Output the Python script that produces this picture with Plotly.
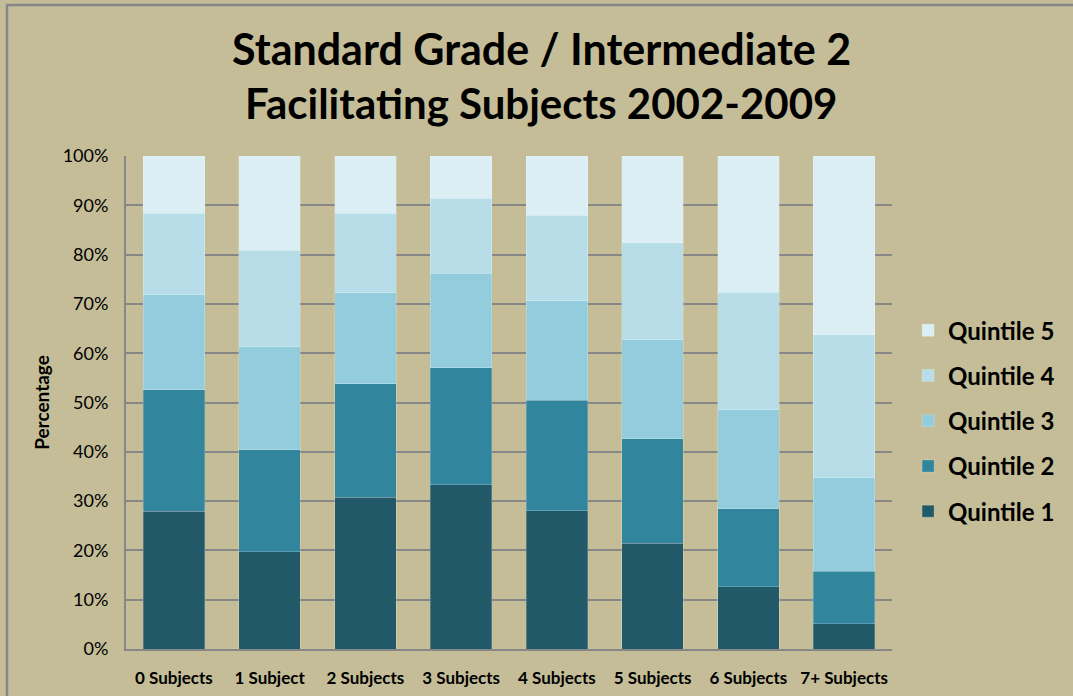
import plotly.graph_objects as go

categories = ["0 Subjects", "1 Subject", "2 Subjects", "3 Subjects", "4 Subjects",
              "5 Subjects", "6 Subjects", "7+ Subjects"]
quintile_1 = [27.9, 19.7, 30.8, 33.3, 28.0, 21.5, 12.6, 5.1]
quintile_2 = [24.7, 20.7, 23.0, 23.7, 22.5, 21.1, 15.8, 10.7]
quintile_3 = [19.3, 20.9, 18.5, 19.2, 20.1, 20.1, 20.1, 18.9]
quintile_4 = [16.5, 19.6, 16.1, 15.2, 17.4, 19.7, 23.9, 29.0]
quintile_5 = [11.6, 19.1, 11.6, 8.6, 12.0, 17.6, 27.6, 36.3]
series_names = ["Quintile 1", "Quintile 2", "Quintile 3", "Quintile 4", "Quintile 5"]
colors = ["#215968", "#31859C", "#93CDDD", "#B7DEE8", "#DBEEF4"]
y_ticks = [0, 10, 20, 30, 40, 50, 60, 70, 80, 90, 100]
title_lines = ["Standard Grade / Intermediate 2", "Facilitating Subjects 2002-2009"]

BG = "#C4BD97"
GRID = "#878787"
FONT = "Lato, 'Open Sans', sans-serif"

fig = go.Figure()
series = [quintile_1, quintile_2, quintile_3, quintile_4, quintile_5]
for i, (name, vals, col) in enumerate(zip(series_names, series, colors)):
    fig.add_trace(go.Bar(
        x=categories, y=vals, name=name, legendgroup=name,
        legendrank=len(series_names) - i,
        marker=dict(color=col, line=dict(width=0.6, color="rgba(255,255,255,0.35)")),
    ))

fig.update_layout(
    width=1073, height=696,
    barmode="stack", bargap=0.36,
    paper_bgcolor=BG, plot_bgcolor=BG,
    margin=dict(l=126, r=181, t=156, b=47, autoexpand=False),
    font=dict(family=FONT, color="#000000"),
    legend=dict(
        x=1.021, xanchor="left", y=0.463, yanchor="middle",
        traceorder="grouped", tracegroupgap=11,
        font=dict(size=24, family=FONT, color="#000000", weight="bold"),
        bgcolor="rgba(0,0,0,0)", itemwidth=30,
    ),
    showlegend=True,
)

# two-line title as annotations (container pixels -> paper coords)
for line, yc, sz in zip(title_lines, [48, 103], [43, 42]):
    fig.add_annotation(
        text=f"<b>{line}</b>", xref="paper", yref="paper",
        x=(541 - 126) / 766, y=(649 - yc) / 493, xanchor="center", yanchor="middle",
        showarrow=False, font=dict(size=sz, family=FONT, color="#000000"),
    )

fig.update_yaxes(
    range=[0, 100], tickvals=y_ticks, ticktext=[f"{v}%" for v in y_ticks],
    showgrid=True, gridcolor=GRID, gridwidth=1.5,
    showline=True, linecolor=GRID, linewidth=2, automargin=False,
    zeroline=False, ticks="", ticklen=0, ticklabelstandoff=12,
    tickfont=dict(size=18, family=FONT, color="#000000"),
    title=dict(text="<b>Percentage</b>", standoff=8,
               font=dict(size=19, family=FONT, color="#000000")),
)
fig.update_xaxes(
    showline=True, linecolor=GRID, linewidth=2, showgrid=False, automargin=False,
    tickfont=dict(size=17, family=FONT, color="#000000", weight="bold"),
    ticks="", ticklabelstandoff=13,
)

# chart-area border
fig.add_shape(type="rect", xref="paper", yref="paper",
              x0=(7 - 126) / 766, x1=(1090 - 126) / 766,
              y0=(649 - 710) / 493, y1=1 + (156 - 5) / 493,
              line=dict(color=GRID, width=2.5), fillcolor="rgba(0,0,0,0)", layer="below")

fig.write_html("out.html", config={"displayModeBar": False},
               post_script="document.body.style.margin='0px';")
